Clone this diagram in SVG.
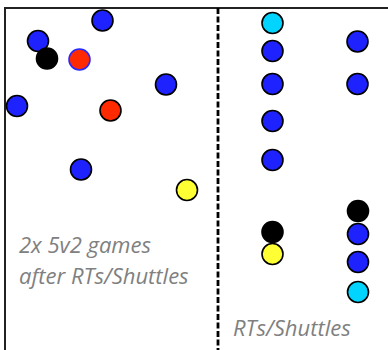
<svg xmlns="http://www.w3.org/2000/svg" width="388" height="350" viewBox="0 0 388 350">
<style>
.c{stroke:#000;stroke-width:1.6}
.b{fill:#1e22ff}
.r{fill:#ff2a00}
.k{fill:#000}
.y{fill:#ffff33}
.cy{fill:#00d4ff}
.t{font-family:"Open Sans","Noto Sans",sans-serif;font-style:italic;fill:#808080;font-size:22px}
</style>
<rect width="388" height="350" fill="#fff"/>
<g id="frame" fill="none">
<path d="M5,350 V8 H388" stroke="#222" stroke-width="2"/>
<line x1="218" y1="8" x2="218" y2="350" stroke="#000" stroke-width="2.8" stroke-dasharray="6 2.5"/>
</g>
<g id="left">
<circle id="p1" class="c b" cx="102.5" cy="20.5" r="10.5"/>
<circle id="p2" class="c b" cx="38" cy="41" r="10.5"/>
<circle id="p3" class="c k" cx="47" cy="58.5" r="10.5"/>
<circle id="p4" class="r" cx="79.5" cy="59.5" r="10.5" stroke="#2a2aff" stroke-width="1.6"/>
<circle id="p5" class="c b" cx="166" cy="84.5" r="10.5"/>
<circle id="p6" class="c b" cx="17" cy="106" r="10.5"/>
<circle id="p7" class="c r" cx="110.5" cy="110.5" r="10.5"/>
<circle id="p8" class="c b" cx="81" cy="169.5" r="10.5"/>
<circle id="p9" class="c y" cx="187" cy="190" r="10.5"/>
</g>
<g id="right">
<circle id="q1" class="c cy" cx="272.5" cy="23" r="10.5"/>
<circle id="q2" class="c b" cx="272.5" cy="51" r="10.5"/>
<circle id="q3" class="c b" cx="272.5" cy="84" r="10.5"/>
<circle id="q4" class="c b" cx="272.5" cy="121" r="10.5"/>
<circle id="q5" class="c b" cx="272.5" cy="160" r="10.5"/>
<circle id="q6" class="c k" cx="272.5" cy="232" r="10.5"/>
<circle id="q7" class="c y" cx="272.5" cy="254" r="10.5"/>
<circle id="q8" class="c b" cx="357.5" cy="41.5" r="10.5"/>
<circle id="q9" class="c b" cx="357.5" cy="84" r="10.5"/>
<circle id="q10" class="c k" cx="358" cy="211" r="10.5"/>
<circle id="q11" class="c b" cx="358" cy="234" r="10.5"/>
<circle id="q12" class="c b" cx="358" cy="262" r="10.5"/>
<circle id="q13" class="c cy" cx="358" cy="292" r="10.5"/>
</g>
<g id="labels">
<text class="t" x="19" y="253">2x 5v2 games</text>
<text class="t" x="19" y="284">after RTs/Shuttles</text>
<text class="t" x="233" y="336">RTs/Shuttles</text>
</g>
</svg>
